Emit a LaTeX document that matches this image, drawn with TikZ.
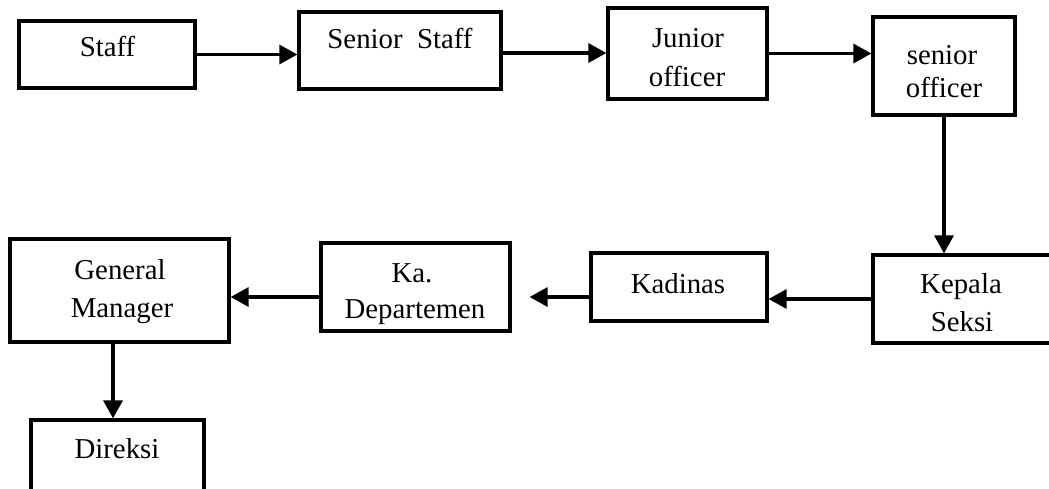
\documentclass[tikz,border=0pt]{standalone}
\usepackage{fontspec}
\setmainfont{Liberation Serif}
\usetikzlibrary{arrows.meta,calc}
\begin{document}
\begin{tikzpicture}[x=0.5pt,y=-0.5pt,
  box/.style={draw,line width=1.6pt,inner sep=0pt},
  lbl/.style={anchor=base,inner sep=0pt,font=\fontsize{14.4}{17}\selectfont},
  link/.style={line width=1.6pt,-{Triangle[length=9pt,width=9.5pt]}}]
\useasboundingbox (0,0) rectangle (1049,488);
\clip (0,0) rectangle (1049,488);

% boxes, top row
\node[box,minimum width=88pt,minimum height=33.5pt] (staff) at (107,54.5) {};
\node[box,minimum width=101pt,minimum height=38.5pt] (senior) at (400,50.5) {};
\node[box,minimum width=79.5pt,minimum height=45.5pt] (junior) at (687.5,53.5) {};
\node[box,minimum width=71pt,minimum height=49pt] (sofficer) at (944,66) {};
% boxes, middle row
\node[box,minimum width=96pt,minimum height=44pt] (kepala) at (969,299) {};
\node[box,minimum width=88pt,minimum height=34pt] (kadinas) at (679,287) {};
\node[box,minimum width=94.5pt,minimum height=44pt] (kadept) at (415.5,287) {};
\node[box,minimum width=109.5pt,minimum height=51.5pt] (gm) at (119.5,290.5) {};
% bottom box
\node[box,minimum width=86.5pt,minimum height=45pt] (direksi) at (117.5,465) {};

% labels
\node[lbl] (tstaff) at (107.5,56) {Staff};
\node[lbl] (tsenior) at (400,48) {Senior\ \ Staff};
\node[lbl] (tjun1) at (688,47) {Junior};
\node[lbl] (tjun2) at (687,86) {officer};
\node[lbl] (tso1) at (942,64) {senior};
\node[lbl] (tso2) at (944,97) {officer};
\node[lbl] (tkep1) at (961,293) {Kepala};
\node[lbl] (tkep2) at (962,331) {Seksi};
\node[lbl] (tkad) at (678,293) {Kadinas};
\node[lbl] (tdep1) at (412,282) {Ka.};
\node[lbl] (tdep2) at (415,318) {Departemen};
\node[lbl] (tgm1) at (120,279) {General};
\node[lbl] (tgm2) at (122,317) {Manager};
\node[lbl] (tdir) at (117,458) {Direksi};

% connectors
\draw[link] (staff.east) -- (staff.east -| senior.west);
\coordinate (sout) at ([yshift=-1.25pt,xshift=-2pt]senior.east);
\draw[link] (sout) -- (sout -| junior.west);
\draw[link] (junior.east) -- (junior.east -| sofficer.west);
\draw[link] (sofficer.south) -- (sofficer.south |- kepala.north);
\draw[link] (kepala.west) -- (kepala.west -| kadinas.east);
\coordinate (kout) at ([yshift=-5pt]kadinas.west);
\draw[link,shorten >=9pt] (kout) -- (kout -| kadept.east);
\coordinate (dout) at ([yshift=-5pt]kadept.west);
\draw[link] (dout) -- (dout -| gm.east);
\coordinate (dtop) at ([xshift=-2.25pt]direksi.north);
\draw[link] (dtop |- gm.south) -- (dtop);
\end{tikzpicture}
\end{document}
